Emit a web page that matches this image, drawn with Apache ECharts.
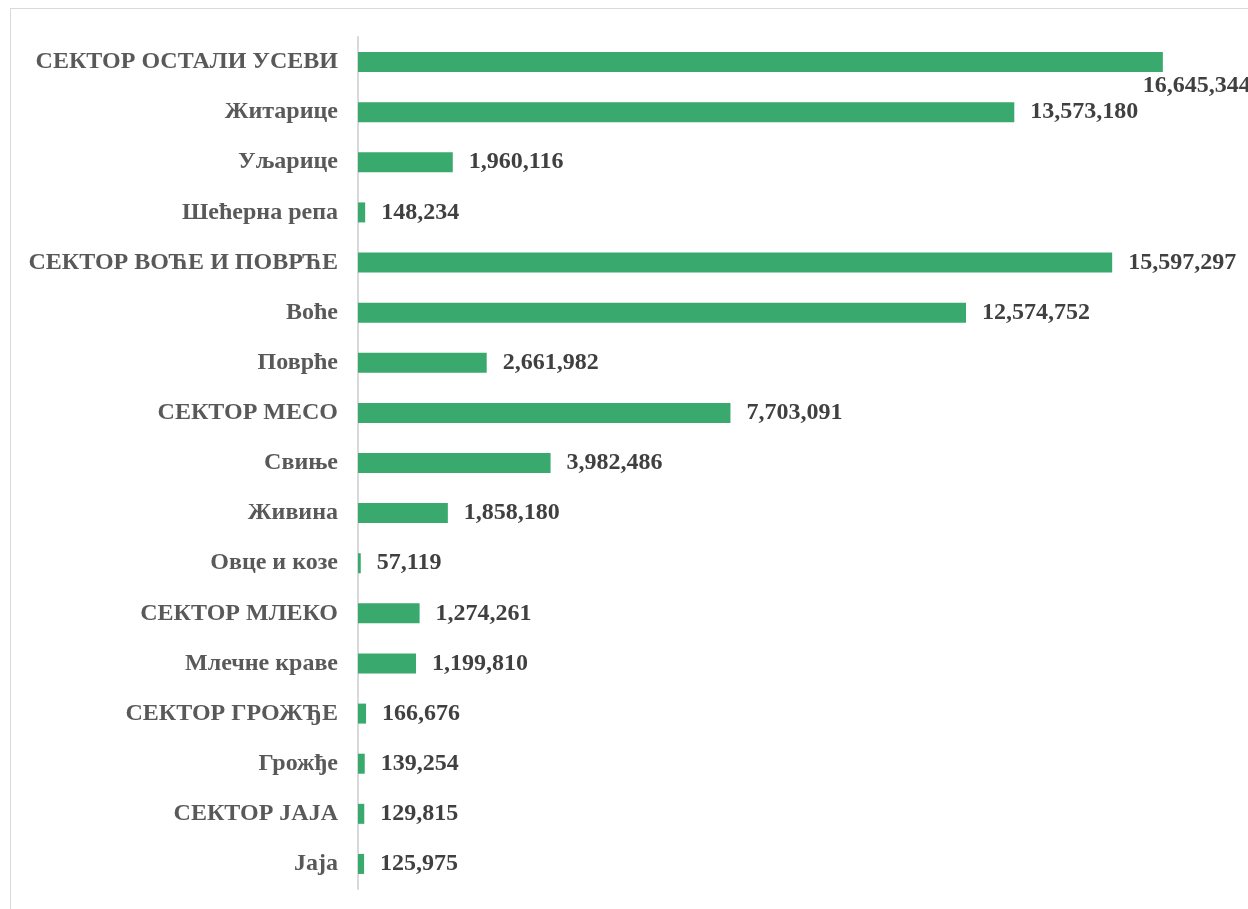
<!DOCTYPE html>
<html>
<head>
<meta charset="utf-8">
<script src="https://cdn.jsdelivr.net/npm/echarts@6/dist/echarts.min.js"></script>
<style>
  html, body { margin: 0; padding: 0; background: #fff; overflow: hidden; }
  #frame { position: absolute; left: 10px; top: 8px; width: 1260px; height: 920px; border: 1px solid #d9d9d9; }
  #chart { position: absolute; left: 0; top: 0; width: 1248px; height: 909px; }
</style>
</head>
<body>
<div id="frame"></div>
<div id="chart"></div>
<script>
// категорије, одозго надоле
const categories = [
  'СЕКТОР ОСТАЛИ УСЕВИ', 'Житарице', 'Уљарице', 'Шећерна репа',
  'СЕКТОР ВОЋЕ И ПОВРЋЕ', 'Воће', 'Поврће',
  'СЕКТОР МЕСО', 'Свиње', 'Живина', 'Овце и козе',
  'СЕКТОР МЛЕКО', 'Млечне краве',
  'СЕКТОР ГРОЖЂЕ', 'Грожђе',
  'СЕКТОР JAJA', 'Jaja'
];
const values = [
  16645344, 13573180, 1960116, 148234,
  15597297, 12574752, 2661982,
  7703091, 3982486, 1858180, 57119,
  1274261, 1199810,
  166676, 139254,
  129815, 125975
];

const chart = echarts.init(document.getElementById('chart'));

const fmt = v => v.toLocaleString('en-US');
const font = '"Liberation Serif", "Times New Roman", serif';

const option = {
  animation: false,
  grid: { left: 358, top: 37, bottom: 20, width: 822 },
  xAxis: {
    type: 'value',
    min: 0,
    max: 17000000,
    show: false
  },
  yAxis: {
    type: 'category',
    data: categories,
    inverse: true,
    axisLine: { show: true, lineStyle: { color: '#d9d9d9', width: 2 } },
    axisTick: { show: false },
    axisLabel: {
      margin: 20,
      color: '#595959',
      fontFamily: font,
      fontWeight: 'bold',
      fontSize: 24
    }
  },
  series: [{
    type: 'bar',
    data: values.map((v, i) => i === 0
      ? { value: v, label: { offset: [-36, 24] } }
      : v),
    barWidth: 20,
    itemStyle: { color: '#3aa96e' },
    label: {
      show: true,
      position: 'right',
      distance: 16,
      color: '#404040',
      fontFamily: font,
      fontWeight: 'bold',
      fontSize: 24,
      formatter: p => fmt(p.value)
    }
  }]
};

chart.setOption(option);
window.addEventListener('resize', chart.resize);
</script>
</body>
</html>
